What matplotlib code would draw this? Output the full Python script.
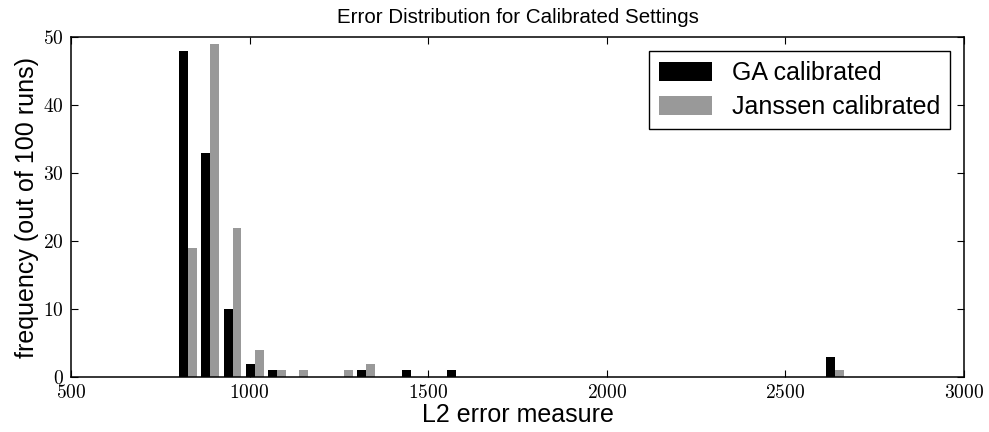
import numpy as np
import matplotlib
matplotlib.use('Agg')
import matplotlib.pyplot as plt
from matplotlib.ticker import FuncFormatter

# histogram bins (30 equal bins over the error range) and counts per bin
bin_start = 796.3
bin_width = 62.44
n_bins = 30
ga_counts = [48, 33, 10, 2, 1, 0, 0, 0, 1, 0, 1, 0, 1, 0, 0,
             0, 0, 0, 0, 0, 0, 0, 0, 0, 0, 0, 0, 0, 0, 3]
janssen_counts = [19, 49, 22, 4, 1, 1, 0, 1, 2, 0, 0, 0, 0, 0, 0,
                  0, 0, 0, 0, 0, 0, 0, 0, 0, 0, 0, 0, 0, 0, 1]
labels = ['GA calibrated', 'Janssen calibrated']
colors = ['black', '#999999']

edges = bin_start + bin_width * np.arange(n_bins + 1)
centers = (edges[:-1] + edges[1:]) / 2

plt.rcParams['mathtext.fontset'] = 'cm'
plt.rcParams['font.family'] = ['Liberation Sans', 'DejaVu Sans']

fig = plt.figure(figsize=(9.89, 4.32), dpi=100)
ax = fig.add_axes([0.0717, 0.127, 0.903, 0.787])

ax.hist([centers, centers], bins=edges, weights=[ga_counts, janssen_counts],
        color=colors, label=labels, histtype='bar', rwidth=0.8)

ax.set_xlim(500, 3000)
ax.set_ylim(0, 50)
ax.set_xticks([500, 1000, 1500, 2000, 2500, 3000])
ax.set_yticks([0, 10, 20, 30, 40, 50])
ax.xaxis.set_major_formatter(FuncFormatter(lambda v, p: '$%d$' % v))
ax.yaxis.set_major_formatter(FuncFormatter(lambda v, p: '$%d$' % v))
ax.tick_params(direction='in', length=5, width=0.8, top=True, right=True,
               labelsize=14, pad=5)
for s in ax.spines.values():
    s.set_linewidth(1.1)

ax.set_title('Error Distribution for Calibrated Settings', fontsize=14.8, pad=10)
ax.set_xlabel('L2 error measure', fontsize=18, labelpad=1)
ax.set_ylabel('frequency (out of 100 runs)', fontsize=18, labelpad=3)

leg = ax.legend(loc='upper right', fontsize=18, fancybox=False,
                edgecolor='black', framealpha=1, handlelength=2.1,
                handleheight=0.8, borderaxespad=0.55, borderpad=0.4,
                labelspacing=0.4)
leg.get_frame().set_linewidth(1.0)

fig.savefig('out.png', dpi=100)
